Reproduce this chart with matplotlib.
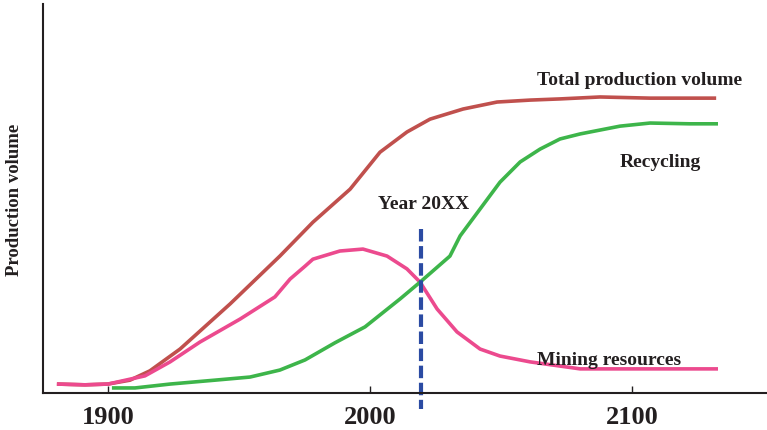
import matplotlib
matplotlib.use("Agg")
import matplotlib.pyplot as plt

# --- data (year, relative volume) ---
total_years = [1880.5, 1891.2, 1900, 1908.4, 1916.0, 1927.5, 1946.6, 1965.6,
               1978.2, 1992.4, 2003.8, 2014.1, 2022.9, 2035.5, 2048.5, 2061.1,
               2072.5, 2087.8, 2106.9, 2132.1]
total_vals = [2.3, 2.1, 2.3, 3.3, 5.7, 11.3, 22.9, 35.2,
              43.9, 52.4, 61.9, 67.1, 70.4, 73.0, 74.8, 75.3,
              75.6, 76.1, 75.8, 75.8]

mining_years = [1880.5, 1891.2, 1900, 1914.1, 1923.7, 1935.1, 1950.4, 1963.7,
                1969.5, 1975.2, 1978.2, 1988.5, 1997.3, 2006.5, 2014.1, 2019.1,
                2025.6, 2033.2, 2042.0, 2049.6, 2061.1, 2080.2, 2106.9, 2132.8]
mining_vals = [2.3, 2.1, 2.3, 4.4, 8.0, 13.1, 19.0, 24.7,
               29.3, 32.6, 34.4, 36.5, 37.0, 35.2, 31.9, 28.5,
               21.6, 15.7, 11.3, 9.5, 8.0, 6.2, 6.2, 6.2]

recycling_years = [1901.5, 1910.3, 1923.7, 1940.8, 1954.2, 1965.6, 1975.2,
                   1986.6, 1998.1, 2011.5, 2019.1, 2030.5, 2034.4, 2042.0,
                   2049.6, 2057.3, 2064.9, 2072.5, 2080.2, 2095.4, 2106.9,
                   2122.1, 2132.8]
recycling_vals = [1.3, 1.3, 2.3, 3.3, 4.1, 5.9, 8.5,
                  12.9, 17.0, 24.2, 28.5, 35.2, 40.4, 47.3,
                  54.2, 59.4, 62.7, 65.3, 66.6, 68.6, 69.4,
                  69.2, 69.2]

turning_year = 2019.5
tick_years = [1900, 2000, 2100]

# --- colours ---
red = "#C0504D"
pink = "#EC4A8E"
green = "#3DB54A"
blue = "#2B4BA3"
ink = "#231F20"

serif = "Liberation Serif"

fig = plt.figure(figsize=(7.67, 4.31), dpi=100)
ax = fig.add_axes([43 / 767, 1 - 394 / 431, 1 - 43 / 767, 389 / 431])

ax.plot(total_years, total_vals, color=red, lw=2.6, solid_capstyle="butt",
        solid_joinstyle="round")
ax.plot(mining_years, mining_vals, color=pink, lw=2.6, solid_capstyle="butt",
        solid_joinstyle="round")
ax.plot(recycling_years, recycling_vals, color=green, lw=2.6,
        solid_capstyle="butt", solid_joinstyle="round")

# dashed marker for the crossover year, runs below the axis
ax.plot([turning_year, turning_year], [42.2, -4.1], color=blue, lw=3,
        dashes=(3, 1.1), clip_on=False)

ax.set_xlim(1875.2, 2151.5)
ax.set_ylim(0, 100)

ax.text(2063.7, 80.7, "Total production volume", fontsize=14, fontweight="bold",
        family=serif, va="center", ha="left", color=ink)
ax.text(2095.4, 59.4, "Recycling", fontsize=14, fontweight="bold",
        family=serif, va="center", ha="left", color=ink)
ax.text(2003.0, 48.6, "Year 20XX", fontsize=14, fontweight="bold",
        family=serif, va="center", ha="left", color=ink)
ax.text(2063.7, 8.7, "Mining resources", fontsize=14, fontweight="bold",
        family=serif, va="center", ha="left", color=ink)

fig.text(15 / 767, 1 - 199.5 / 431, "Production volume", rotation=90,
         fontsize=13.5, fontweight="bold", family=serif, color=ink,
         ha="center", va="center")

ax.set_xticks(tick_years)
ax.set_xticklabels([str(y) for y in tick_years], fontsize=19,
                   fontweight="bold", family=serif, color=ink)
ax.set_yticks([])
ax.tick_params(axis="x", direction="in", length=5, width=1, pad=9,
               color=ink)

for side in ["top", "right"]:
    ax.spines[side].set_visible(False)
for side in ["left", "bottom"]:
    ax.spines[side].set_linewidth(1.5)
    ax.spines[side].set_color(ink)

fig.savefig("out.png", dpi=100)
